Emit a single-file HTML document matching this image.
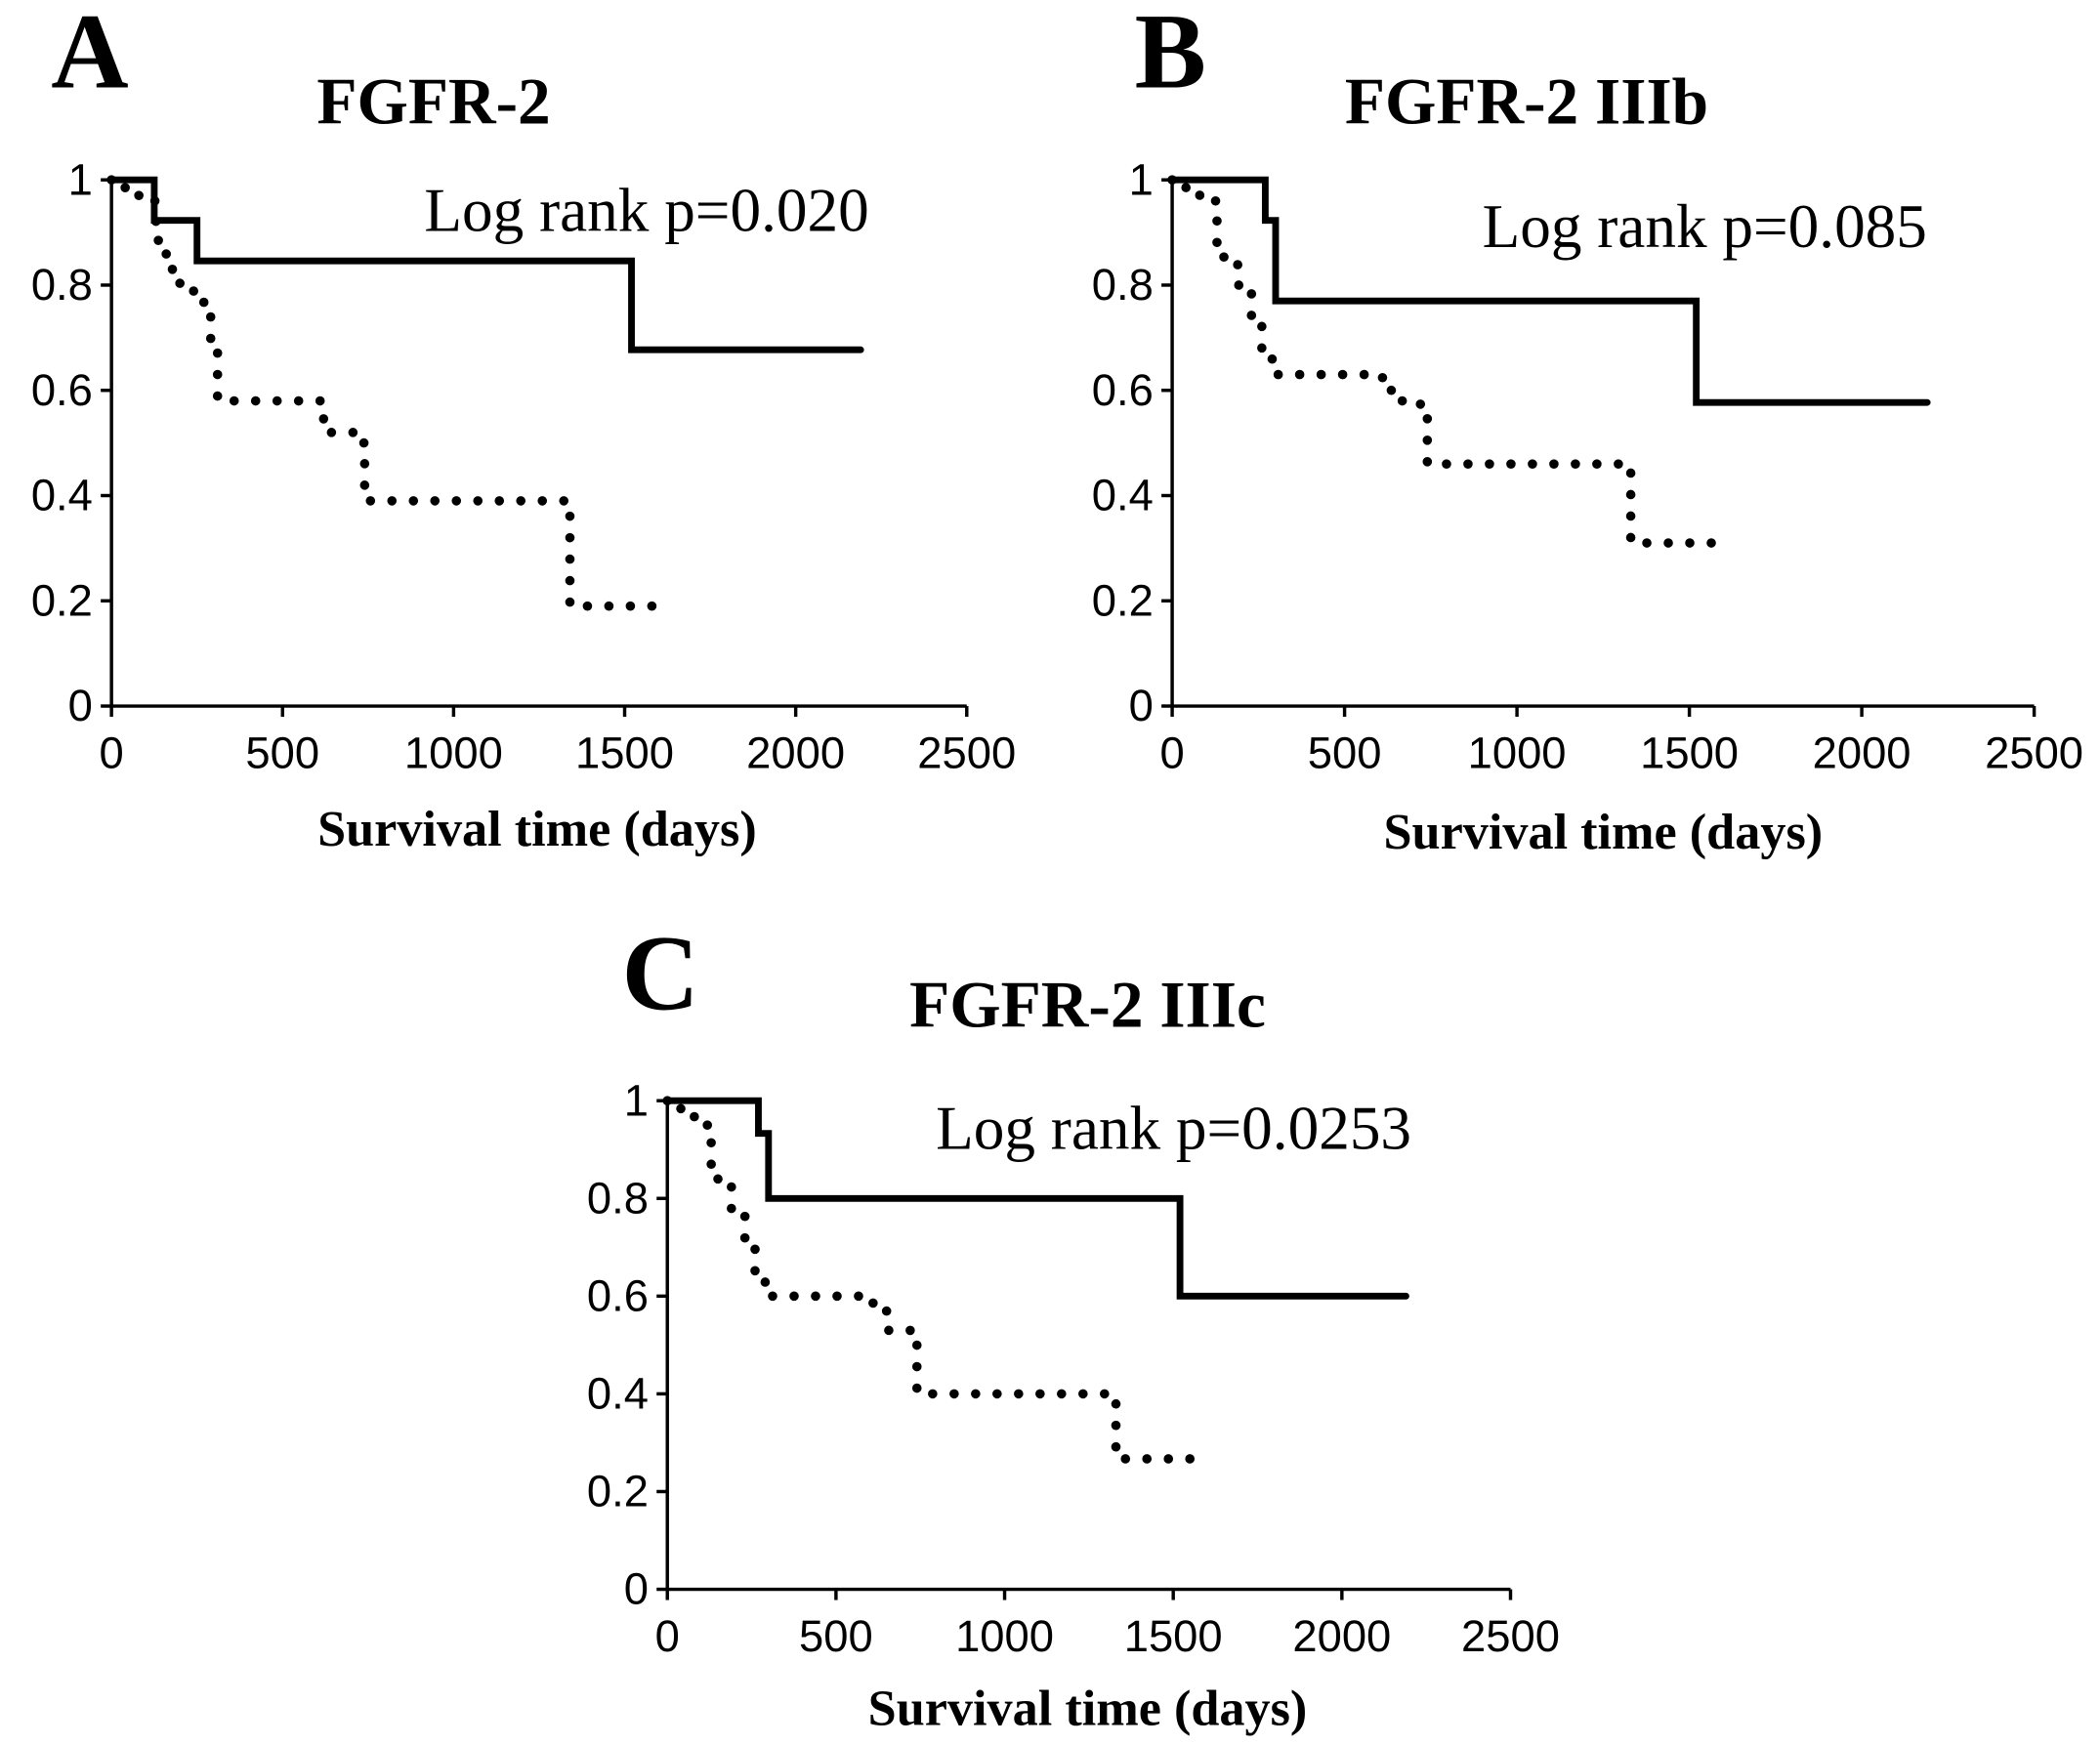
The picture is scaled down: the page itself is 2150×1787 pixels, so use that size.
<!DOCTYPE html>
<html><head><meta charset="utf-8"><style>
html,body{margin:0;padding:0;background:#fff;}
svg{display:block}
.tick{font-family:"Liberation Sans",sans-serif;font-size:33px;fill:#000}
.ttl{font-family:"Liberation Serif",serif;font-weight:bold;fill:#000}
.lr{font-family:"Liberation Serif",serif;font-size:46px;fill:#000}
</style></head><body>
<svg id="fig" width="2150" height="1787" viewBox="0 0 1564 1300" xmlns="http://www.w3.org/2000/svg"></svg>
<script>
const xTicks=[0,500,1000,1500,2000,2500];
const yTicks=[0,0.2,0.4,0.6,0.8,1];
const yTickLabels=["0","0.2","0.4","0.6","0.8","1"];
// Panel A
const aHighT=[0,125,250,1520,2190];
const aHighS=[1,0.923,0.846,0.677,0.677];
const aLowT=[0,40,80,130,160,200,240,270,290,310,620,720,740,1340,1580];
const aLowS=[1,0.98,0.96,0.885,0.83,0.8,0.77,0.74,0.68,0.58,0.52,0.5,0.39,0.19,0.19];
// Panel B
const bHighT=[0,270,300,1520,2190];
const bHighS=[1,0.923,0.77,0.577,0.577];
const bLowT=[0,40,80,130,150,190,230,260,290,610,650,720,740,1330,1610];
const bLowS=[1,0.985,0.96,0.88,0.84,0.8,0.74,0.68,0.63,0.6,0.58,0.55,0.46,0.31,0.31];
// Panel C
const cHighT=[0,270,300,1520,2190];
const cHighS=[1,0.933,0.8,0.6,0.6];
const cLowT=[0,40,80,130,150,190,230,260,290,610,650,720,740,1330,1610];
const cLowS=[1,0.98,0.95,0.87,0.83,0.77,0.7,0.64,0.6,0.57,0.53,0.5,0.4,0.267,0.267];

const NS="http://www.w3.org/2000/svg";
const svg=document.getElementById('fig');
function mk(tag,attrs,parent){const e=document.createElementNS(NS,tag);for(const k in attrs)e.setAttribute(k,attrs[k]);(parent||svg).appendChild(e);return e;}

const panels=[
 {key:'a',letter:'A',lx:38,ly:65,title:'FGFR-2',tx:323,ty:92,x0:83,x1:720,y0:526,y1:134,lrText:'Log rank p=0.020',lrx:316,lry:172,xtx:400,xty:630,hT:aHighT,hS:aHighS,lT:aLowT,lS:aLowS},
 {key:'b',letter:'B',lx:845,ly:65,title:'FGFR-2 IIIb',tx:1137,ty:92,x0:873,x1:1515,y0:526,y1:134,lrText:'Log rank p=0.085',lrx:1104,lry:184,xtx:1194,xty:632,hT:bHighT,hS:bHighS,lT:bLowT,lS:bLowS},
 {key:'c',letter:'C',lx:463,ly:752,title:'FGFR-2 IIIc',tx:810,ty:765,x0:497,x1:1125,y0:1184,y1:820,lrText:'Log rank p=0.0253',lrx:697,lry:856,xtx:810,xty:1285,hT:cHighT,hS:cHighS,lT:cLowT,lS:cLowS}
];

panels.forEach(p=>{
  const g=mk('g',{});
  
  
  const xs=v=>p.x0+(p.x1-p.x0)*v/2500;
  const ys=v=>p.y0+(p.y1-p.y0)*v;
  const L=mk('text',{x:p.lx,y:p.ly,class:'ttl','font-size':80},g);L.textContent=p.letter;
  
  
  const T=mk('text',{x:p.tx,y:p.ty,class:'ttl','font-size':49,'text-anchor':'middle'},g);T.textContent=p.title;
  
  
  const ax=mk('path',{d:`M${xs(0)},${ys(1)}V${ys(0)}H${xs(2500)}`,stroke:'#000','stroke-width':2.5,fill:'none'},g);
  
  
  xTicks.forEach(t=>{
    mk('line',{x1:xs(t),x2:xs(t),y1:ys(0),y2:ys(0)+8,stroke:'#000','stroke-width':2.5},g);
    const tl=mk('text',{x:xs(t),y:ys(0)+46,class:'tick','text-anchor':'middle'},g);tl.textContent=t;
    
    
  });
  yTicks.forEach((t,i)=>{
    mk('line',{x1:xs(0)-8,x2:xs(0),y1:ys(t),y2:ys(t),stroke:'#000','stroke-width':2.5},g);
    const tl=mk('text',{x:xs(0)-14,y:ys(t)+11,class:'tick','text-anchor':'end'},g);tl.textContent=yTickLabels[i];
    
    
  });
  function step(T,S){let d=`M${xs(T[0])},${ys(S[0])}`;for(let i=1;i<T.length;i++){d+=`H${xs(T[i])}V${ys(S[i])}`;}return d;}
  const hi=mk('path',{d:step(p.hT,p.hS),stroke:'#000','stroke-width':5,fill:'none','stroke-linecap':'round'},g);
  
  
  const lo=mk('path',{d:step(p.lT,p.lS),stroke:'#000','stroke-width':7,fill:'none','stroke-linecap':'round','stroke-dasharray':'0 16'},g);
  
  
  const lr=mk('text',{x:p.lrx,y:p.lry,class:'lr'},g);lr.textContent=p.lrText;
  
  
  const xt=mk('text',{x:p.xtx,y:p.xty,class:'ttl','font-size':38,'text-anchor':'middle'},g);xt.textContent='Survival time (days)';
  
  
});
</script>
</body></html>
